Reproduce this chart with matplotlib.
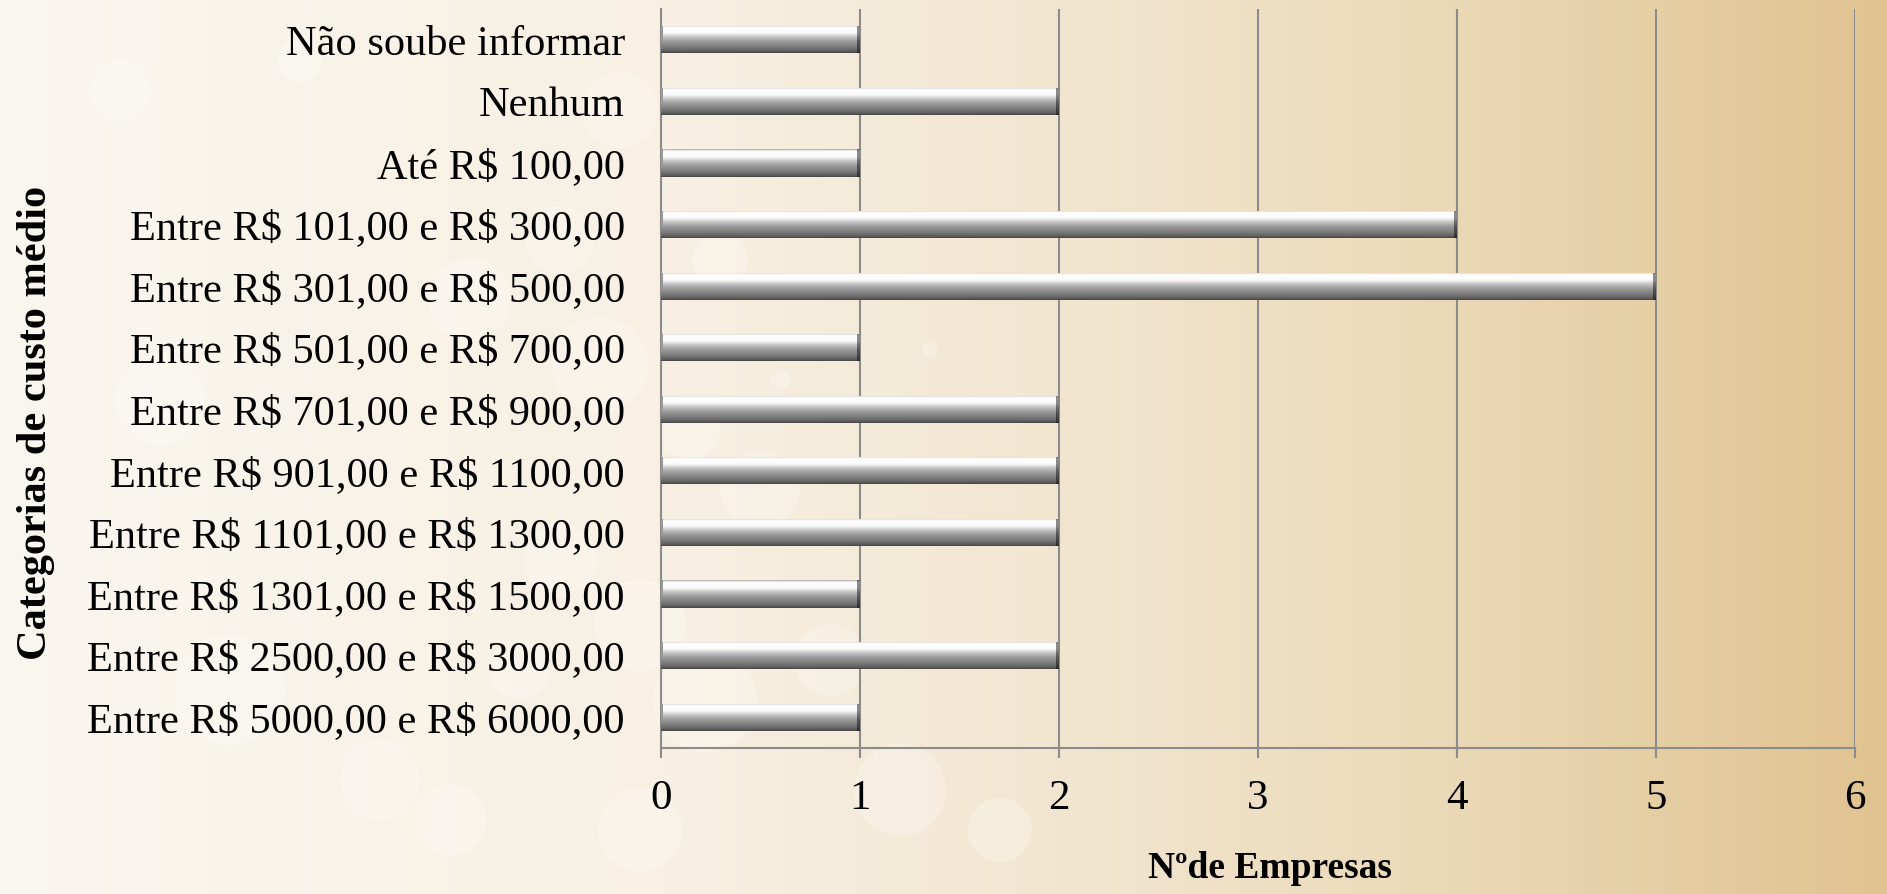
import matplotlib.pyplot as plt
import numpy as np
from matplotlib.colors import LinearSegmentedColormap
from matplotlib.patches import Circle

# categories, top to bottom as in the chart
categorias = [
    "Não soube informar",
    "Nenhum",
    "Até R$ 100,00",
    "Entre R$ 101,00 e R$ 300,00",
    "Entre R$ 301,00 e R$ 500,00",
    "Entre R$ 501,00 e R$ 700,00",
    "Entre R$ 701,00 e R$ 900,00",
    "Entre R$ 901,00 e R$ 1100,00",
    "Entre R$ 1101,00 e R$ 1300,00",
    "Entre R$ 1301,00 e R$ 1500,00",
    "Entre R$ 2500,00 e R$ 3000,00",
    "Entre R$ 5000,00 e R$ 6000,00",
]
empresas = [1, 2, 1, 4, 5, 1, 2, 2, 2, 1, 2, 1]
x_ticks = [0, 1, 2, 3, 4, 5, 6]

plt.rcParams["font.family"] = ["Liberation Serif", "DejaVu Serif"]

W, H = 1887, 894
fig = plt.figure(figsize=(W / 100, H / 100), dpi=100)

# background: cream to tan gradient with some soft bokeh circles on the left
bg = fig.add_axes([0, 0, 1, 1], zorder=-10)
bg_cmap = LinearSegmentedColormap.from_list(
    "bg", [(0, "#faf6f0"), (0.35, "#f7f0e3"), (0.6, "#f1e4cd"), (0.8, "#ead6b2"), (1, "#e0c390")]
)
bg.imshow(np.linspace(0, 1, 400)[None, :], aspect="auto", cmap=bg_cmap,
          extent=[0, W, H, 0])
bokeh = [(620, 110, 38), (470, 300, 42), (600, 365, 48), (690, 430, 30), (760, 490, 40),
         (560, 560, 36), (640, 625, 46), (705, 700, 52), (520, 670, 30), (830, 660, 36),
         (900, 790, 46), (1000, 830, 32), (640, 830, 42), (120, 90, 30), (300, 60, 22),
         (230, 690, 55), (380, 780, 40), (930, 350, 8), (780, 380, 10), (560, 240, 34),
         (720, 260, 28), (450, 820, 36), (160, 400, 45)]
for cx, cy, r in bokeh:
    bg.add_patch(Circle((cx, cy), r, color="white", alpha=0.25, lw=0))
bg.set_xlim(0, W)
bg.set_ylim(H, 0)
bg.axis("off")

ax = fig.add_axes([661 / W, 1 - 748 / H, (1855 - 661) / W, (748 - 9) / H])
ax.patch.set_alpha(0)

n = len(categorias)
ypos = np.arange(n)[::-1]
bars = ax.barh(ypos, empresas, height=0.44, color="none", edgecolor="none", zorder=3)

# cylinder-like shading for each bar
rows = np.linspace(0, 1, 60)
shade = np.interp(rows, [0, 0.04, 0.08, 0.28, 0.42, 0.6, 0.8, 0.93, 1.0],
                  [0.66, 0.9, 1.0, 0.98, 0.78, 0.6, 0.48, 0.38, 0.28])
for bar in bars:
    x0, y0, w, h = bar.get_x(), bar.get_y(), bar.get_width(), bar.get_height()
    ncol = max(int(w * 199), 10)
    img = np.repeat(shade[:, None], ncol, axis=1)
    img[:, -3:] *= 0.55
    img[:, :2] = np.minimum(img[:, :2], 0.6)
    rgb = np.dstack([img, img, img])
    im = ax.imshow(rgb, extent=[x0, x0 + w, y0, y0 + h], aspect="auto",
                   origin="upper", zorder=3, interpolation="bilinear")
    im.set_clip_path(bar)

ax.set_xlim(0, 6)
ax.set_ylim(-0.5, n - 0.5)
ax.set_yticks(ypos)
ax.set_yticklabels([c.replace("$", r"\$") for c in categorias])
ax.set_xticks(x_ticks)
ax.grid(axis="x", color="#8c8c8c", lw=1.5, zorder=1)
ax.set_axisbelow(True)
for side in ["top", "right"]:
    ax.spines[side].set_visible(False)
for side in ["left", "bottom"]:
    ax.spines[side].set_color("#8c8c8c")
    ax.spines[side].set_linewidth(1.5)
ax.tick_params(axis="y", length=0, pad=26, labelsize=30.5)
ax.tick_params(axis="x", length=7, width=1.5, color="#8c8c8c", pad=16, labelsize=31)

fig.text(1270 / W, 1 - 869 / H, "Nºde Empresas", ha="center", va="center",
         fontsize=27, fontweight="bold")
fig.text(36 / W, 1 - 423 / H, "Categorias de custo médio", ha="center", va="center",
         rotation=90, fontsize=30.5, fontweight="bold")

fig.savefig("out.png", dpi=100)
